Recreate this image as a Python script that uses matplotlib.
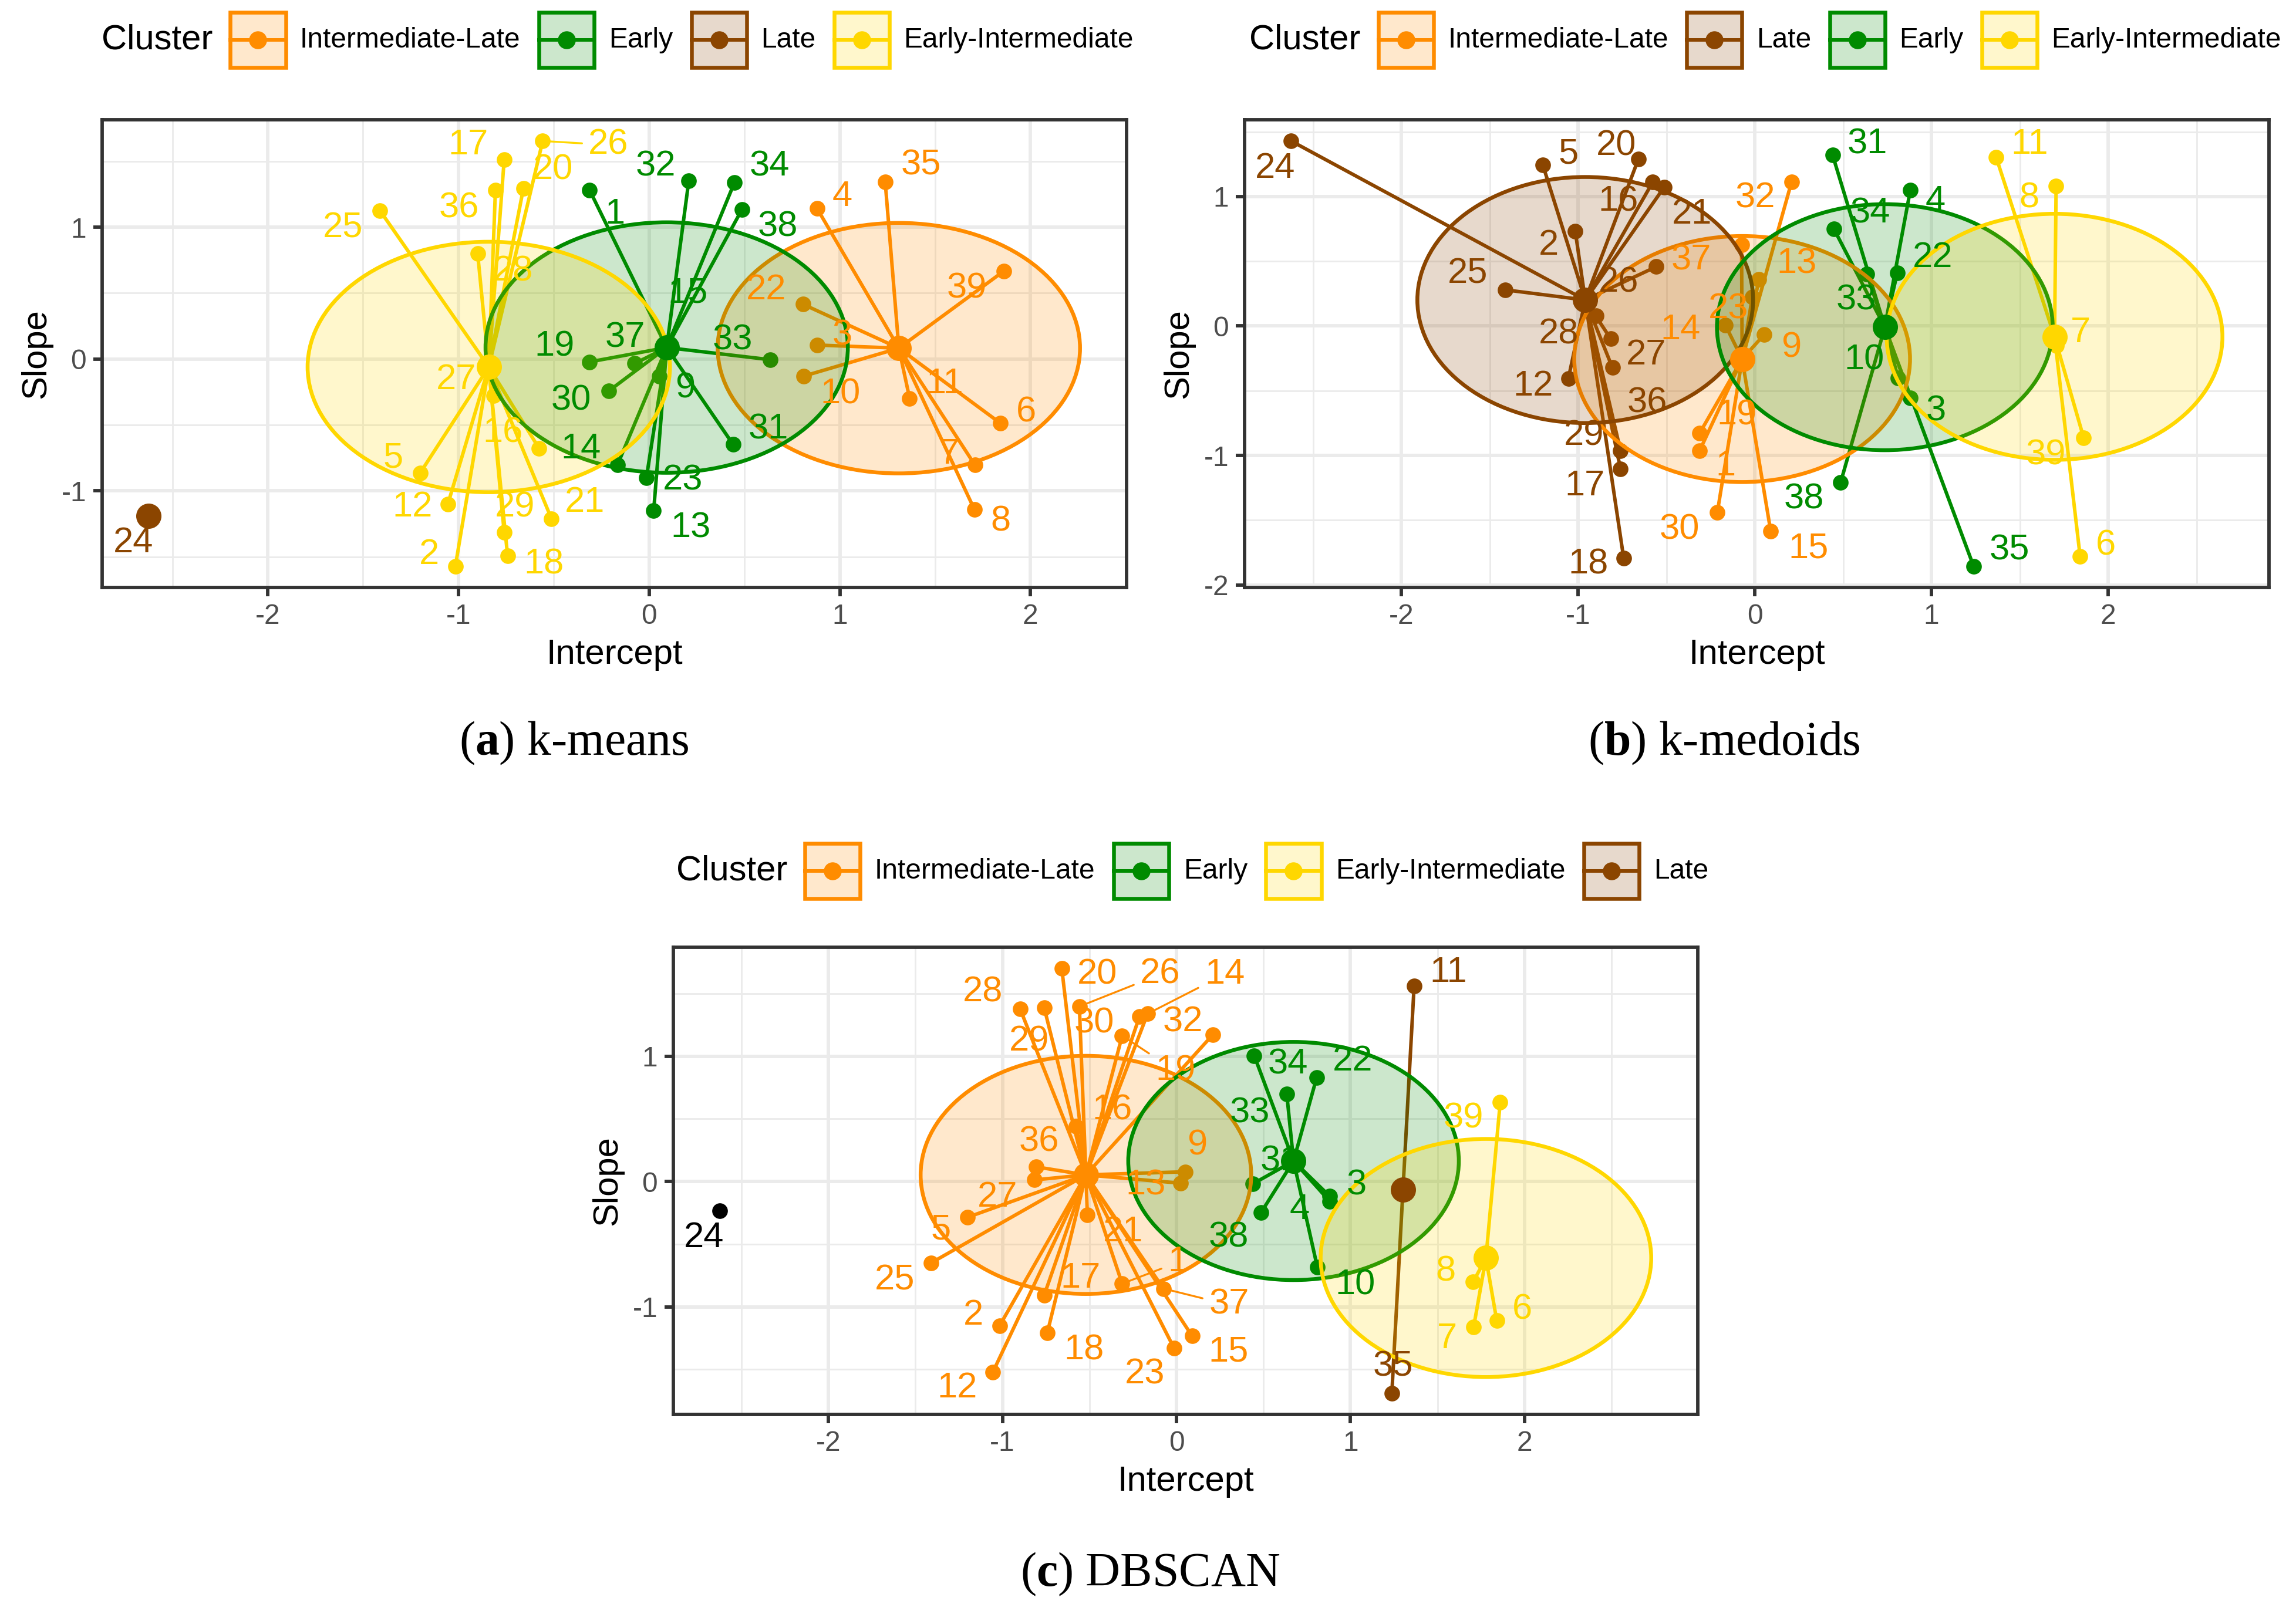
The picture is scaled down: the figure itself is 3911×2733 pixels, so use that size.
import numpy as np
import matplotlib
matplotlib.use("Agg")
import matplotlib.pyplot as plt
from matplotlib.patches import Ellipse, Rectangle
from matplotlib.lines import Line2D
from matplotlib.colors import to_rgba
from matplotlib.ticker import MultipleLocator

plt.rcParams['font.family'] = ['Liberation Sans', 'DejaVu Sans']
plt.rcParams['axes.unicode_minus'] = False
plt.rcParams['mathtext.fontset'] = 'custom'
plt.rcParams['mathtext.rm'] = 'Liberation Serif'
plt.rcParams['mathtext.bf'] = 'Liberation Serif:bold'

# --- datos (id 1..39) ---
ids = list(range(1, 40))
intercept = [-0.312, -1.016, 0.881, 0.880, -1.200, 1.841, 1.708, 1.705, 0.052, 0.810,
             1.366, -1.055, 0.024, -0.166, 0.090, -0.577, -0.760, -0.742, -0.312, -0.659,
             -0.512, 0.806, -0.014, -2.624, -1.411, -0.558, -0.816, -0.899, -0.760, -0.212,
             0.440, 0.208, 0.634, 0.447, 1.238, -0.806, -0.075, 0.486, 1.861]

slope_kmeans = [1.281, -1.572, 0.106, 1.144, -0.863, -0.486, -0.803, -1.139, -0.130, -0.130,
                -0.298, -1.099, -1.151, -0.803, 0.051, -0.678, 1.512, -1.495, -0.022, 1.296,
                -1.212, 0.416, -0.899, -1.192, 1.125, 1.654, -0.279, 0.800, -1.315, -0.243,
                -0.647, 1.351, -0.005, 1.337, 1.344, 1.279, -0.034, 1.132, 0.668]
slope_kmedoids = [-0.962, 0.732, -0.553, 1.050, 1.245, -1.781, -0.154, 1.081, -0.068, -0.399,
                  1.302, -0.404, 0.360, 0.005, -1.586, 1.113, -1.104, -1.794, -0.827, 1.289,
                  1.074, 0.409, 0.225, 1.429, 0.279, 0.458, -0.098, 0.078, -0.962, -1.439,
                  1.321, 1.113, 0.401, 0.751, -1.855, -0.321, 0.629, -1.206, -0.864]
slope_dbscan = [-0.815, -1.149, -0.117, -0.156, -0.285, -1.110, -1.162, -0.802, 0.078, -0.684,
                1.561, -1.520, -0.013, 1.339, -1.232, 0.439, -0.906, -1.206, 1.164, 1.700,
                -0.266, 0.830, -1.329, -0.232, -0.650, 1.397, 0.013, 1.379, 1.386, 1.319,
                -0.018, 1.170, 0.700, 1.005, -1.689, 0.117, -0.854, -0.248, 0.634]

cl_kmeans = ['E', 'EI', 'IL', 'IL', 'EI', 'IL', 'IL', 'IL', 'E', 'IL',
             'IL', 'EI', 'E', 'E', 'E', 'EI', 'EI', 'EI', 'E', 'EI',
             'EI', 'IL', 'E', 'L', 'EI', 'EI', 'EI', 'EI', 'EI', 'E',
             'E', 'E', 'E', 'E', 'IL', 'EI', 'E', 'E', 'IL']
cl_kmedoids = ['IL', 'L', 'E', 'E', 'L', 'EI', 'EI', 'EI', 'IL', 'E',
               'EI', 'L', 'IL', 'IL', 'IL', 'L', 'L', 'L', 'IL', 'L',
               'L', 'E', 'IL', 'L', 'L', 'L', 'L', 'L', 'L', 'IL',
               'E', 'IL', 'E', 'E', 'E', 'L', 'IL', 'E', 'EI']
cl_dbscan = ['IL', 'IL', 'E', 'E', 'IL', 'EI', 'EI', 'EI', 'IL', 'E',
             'L', 'IL', 'IL', 'IL', 'IL', 'IL', 'IL', 'IL', 'IL', 'IL',
             'IL', 'E', 'IL', 'N', 'IL', 'IL', 'IL', 'IL', 'IL', 'IL',
             'E', 'IL', 'E', 'E', 'L', 'IL', 'IL', 'E', 'EI']

orden_kmeans = ['IL', 'E', 'L', 'EI']
orden_kmedoids = ['IL', 'L', 'E', 'EI']
orden_dbscan = ['IL', 'E', 'EI', 'L']

nombres = {'IL': 'Intermediate-Late', 'E': 'Early', 'L': 'Late', 'EI': 'Early-Intermediate'}
colores = {'IL': '#FF8C00', 'E': '#008B00', 'L': '#8B4500', 'EI': '#FFD700', 'N': '#000000'}
RADIO = 0.95  # ellipse.type = "euclid", level 0.95

# desplazamiento de las etiquetas (estilo ggrepel), en unidades de datos
lab_kmeans = {17: (-0.19, 0.11), 26: (0.345, -0.03), 20: (0.154, 0.137), 36: (-0.19, -0.135),
              25: (-0.195, -0.132), 28: (0.187, -0.137), 27: (-0.195, 0.12), 16: (-0.189, 0.115),
              5: (-0.142, 0.108), 12: (-0.187, -0.028), 29: (0.057, 0.188), 21: (0.174, 0.121),
              2: (-0.138, 0.084), 18: (0.191, -0.065), 24: (-0.081, -0.207),
              32: (-0.173, 0.106), 34: (0.185, 0.12), 38: (0.19, -0.132), 1: (0.134, -0.185),
              15: (0.114, 0.445), 37: (-0.052, 0.193), 19: (-0.185, 0.113), 30: (-0.196, -0.074),
              9: (0.138, -0.096), 33: (-0.195, 0.144), 31: (0.185, 0.113), 14: (-0.191, 0.12),
              23: (0.191, -0.024), 13: (0.195, -0.133),
              4: (0.133, 0.084), 35: (0.189, 0.125), 22: (-0.191, 0.108), 3: (0.133, 0.072),
              10: (0.193, -0.139), 39: (-0.194, -0.137), 11: (0.185, 0.108), 6: (0.136, 0.08),
              7: (-0.133, 0.077), 8: (0.138, -0.097)}
lab_kmedoids = {24: (-0.089, -0.213), 5: (0.144, 0.081), 20: (-0.127, 0.098), 16: (-0.197, -0.154),
                21: (0.155, -0.213), 2: (-0.152, -0.111), 25: (-0.212, 0.122), 26: (-0.212, -0.123),
                28: (-0.212, -0.142), 27: (0.201, -0.13), 12: (-0.201, -0.061), 36: (0.197, -0.274),
                29: (-0.207, 0.111), 17: (-0.203, -0.134), 18: (-0.201, -0.048),
                37: (-0.284, -0.123), 14: (-0.254, -0.037), 32: (-0.205, -0.129), 13: (0.213, 0.117),
                23: (-0.135, -0.098), 9: (0.154, -0.103), 19: (0.209, 0.135), 1: (0.146, -0.122),
                30: (-0.213, -0.134), 15: (0.213, -0.134),
                31: (0.197, 0.083), 4: (0.141, -0.091), 34: (0.207, 0.115), 22: (0.202, 0.115),
                33: (-0.059, -0.205), 10: (-0.191, 0.135), 3: (0.144, -0.108), 38: (-0.207, -0.135),
                35: (0.204, 0.123),
                11: (0.19, 0.098), 8: (-0.152, -0.097), 7: (0.135, 0.098), 39: (-0.213, -0.134),
                6: (0.145, 0.085)}
lab_dbscan = {20: (0.204, -0.052), 28: (-0.214, 0.13), 26: (0.465, 0.256), 14: (0.443, 0.314),
              29: (-0.086, -0.269), 30: (-0.26, -0.058), 32: (-0.172, 0.099), 19: (0.306, -0.281),
              16: (0.209, 0.13), 36: (0.016, 0.199), 9: (0.067, 0.209), 27: (-0.213, -0.141),
              13: (-0.2, -0.018), 5: (-0.153, -0.104), 21: (0.204, -0.139), 1: (0.32, 0.17),
              25: (-0.208, -0.139), 17: (0.208, 0.131), 37: (0.377, -0.13), 2: (-0.153, 0.081),
              18: (0.212, -0.144), 15: (0.209, -0.131), 23: (-0.168, -0.209), 12: (-0.204, -0.13),
              24: (-0.092, -0.217),
              34: (0.194, -0.07), 22: (0.207, 0.131), 33: (-0.211, -0.157), 31: (0.158, 0.177),
              3: (0.154, 0.086), 4: (-0.173, -0.071), 38: (-0.185, -0.201), 10: (0.216, -0.144),
              11: (0.196, 0.105), 35: (0.006, 0.209),
              39: (-0.211, -0.13), 8: (-0.158, 0.084), 6: (0.147, 0.087), 7: (-0.151, -0.096)}
seg_kmeans = [26]
seg_kmedoids = []
seg_dbscan = [26, 14, 19, 37, 1]

DPI = 392
PX = DPI / 72.0
fig = plt.figure(figsize=(3911 / DPI, 2733 / DPI), dpi=DPI)
fig.patch.set_facecolor('white')


def dibujar_panel(ax, slope, cluster, orden, etiquetas, segmentos):
    x = np.array(intercept)
    y = np.array(slope)
    cl = np.array(cluster)
    ext_x, ext_y = list(x), list(y)

    for c in orden + ['N']:
        m = cl == c
        if not m.any():
            continue
        col = colores[c]
        ax.scatter(x[m], y[m], s=4.9 ** 2, color=col, linewidths=0, zorder=2)
        if c == 'N':
            continue
        cx, cy = x[m].mean(), y[m].mean()
        for xi, yi in zip(x[m], y[m]):
            ax.plot([cx, xi], [cy, yi], color=col, lw=1.1, zorder=2)
        if m.sum() >= 3:
            ax.add_patch(Ellipse((cx, cy), 2 * RADIO, 2 * RADIO, facecolor=to_rgba(col, 0.2),
                                 edgecolor=col, lw=1.2, zorder=2.5))
            ext_x += [cx - RADIO, cx + RADIO]
            ext_y += [cy - RADIO, cy + RADIO]
        ax.scatter([cx], [cy], s=7.9 ** 2, color=col, linewidths=0, zorder=3)

    for i, xi, yi, c in zip(ids, x, y, cl):
        dx, dy = etiquetas.get(i, (0.15, 0.1))
        flecha = None
        if i in segmentos:
            flecha = dict(arrowstyle='-', color=colores[c], lw=0.6, shrinkA=0, shrinkB=2)
        ax.annotate(str(i), (xi, yi), xytext=(xi + dx, yi + dy), textcoords='data',
                    color=colores[c], fontsize=11.3, ha='center', va='center',
                    zorder=4, arrowprops=flecha)

    # expansión 5 % como ggplot
    rx = max(ext_x) - min(ext_x)
    ry = max(ext_y) - min(ext_y)
    ax.set_xlim(min(ext_x) - 0.05 * rx, max(ext_x) + 0.05 * rx)
    ax.set_ylim(min(ext_y) - 0.05 * ry, max(ext_y) + 0.05 * ry)

    ax.xaxis.set_major_locator(MultipleLocator(1))
    ax.yaxis.set_major_locator(MultipleLocator(1))
    ax.xaxis.set_minor_locator(MultipleLocator(0.5))
    ax.yaxis.set_minor_locator(MultipleLocator(0.5))
    ax.set_axisbelow(True)
    ax.grid(which='major', color='#EBEBEB', lw=1.07)
    ax.grid(which='minor', color='#EBEBEB', lw=0.53)
    ax.tick_params(which='major', length=2.75, width=1.07, color='#333333',
                   labelcolor='#4D4D4D', labelsize=8.8, pad=2.2)
    ax.tick_params(which='minor', length=0)
    for s in ax.spines.values():
        s.set_color('#333333')
        s.set_linewidth(1.07)
    ax.set_xlabel('Intercept', fontsize=11, labelpad=2.75)
    ax.set_ylabel('Slope', fontsize=11, labelpad=2.75)


def leyenda(xc, yc, orden):
    r = fig.canvas.get_renderer()
    W, H = fig.bbox.width, fig.bbox.height
    key = 17.28 * PX
    titulo = fig.text(0, yc, 'Cluster', fontsize=11, ha='left', va='center')
    textos = [fig.text(0, yc, nombres[c], fontsize=8.8, ha='left', va='center') for c in orden]
    tw = titulo.get_window_extent(r).width
    anchos = [t.get_window_extent(r).width for t in textos]
    g_tit, g_txt, g_item = 5.5 * PX, 4.5 * PX, 5.8 * PX
    total = tw + g_tit + sum(key + g_txt + w for w in anchos) + g_item * (len(orden) - 1)
    xp = xc * W - total / 2
    titulo.set_x(xp / W)
    xp += tw + g_tit
    for c, t, w in zip(orden, textos, anchos):
        col = colores[c]
        fig.add_artist(Rectangle((xp / W, yc - key / 2 / H), key / W, key / H,
                                 transform=fig.transFigure, facecolor=to_rgba(col, 0.2),
                                 edgecolor=col, lw=1.2))
        fig.add_artist(Line2D([xp / W, (xp + key) / W], [yc, yc], transform=fig.transFigure,
                              color=col, lw=1.1))
        fig.add_artist(Line2D([(xp + key / 2) / W], [yc], transform=fig.transFigure,
                              color=col, marker='o', ms=5.6, ls='none', mew=0))
        xp += key + g_txt
        t.set_x(xp / W)
        xp += w + g_item


ax_a = fig.add_axes([0.04449, 0.63374, 0.44618, 0.29162])
ax_b = fig.add_axes([0.54206, 0.63374, 0.44618, 0.29162])
ax_c = fig.add_axes([0.29327, 0.11818, 0.44618, 0.29125])

dibujar_panel(ax_a, slope_kmeans, cl_kmeans, orden_kmeans, lab_kmeans, seg_kmeans)
dibujar_panel(ax_b, slope_kmedoids, cl_kmedoids, orden_kmedoids, lab_kmedoids, seg_kmedoids)
dibujar_panel(ax_c, slope_dbscan, cl_dbscan, orden_dbscan, lab_dbscan, seg_dbscan)

leyenda(0.2690, 0.9751, orden_kmeans)
leyenda(0.7689, 0.9751, orden_kmedoids)
leyenda(0.5193, 0.4570, orden_dbscan)

fig.text(0.2500, 0.5368, r'($\mathbf{a}$) k-means', family='Liberation Serif',
         fontsize=15, ha='center', va='center')
fig.text(0.7510, 0.5368, r'($\mathbf{b}$) k-medoids', family='Liberation Serif',
         fontsize=15, ha='center', va='center')
fig.text(0.5010, 0.0186, r'($\mathbf{c}$) DBSCAN', family='Liberation Serif',
         fontsize=15, ha='center', va='center')

fig.savefig('out.png', dpi=DPI)
